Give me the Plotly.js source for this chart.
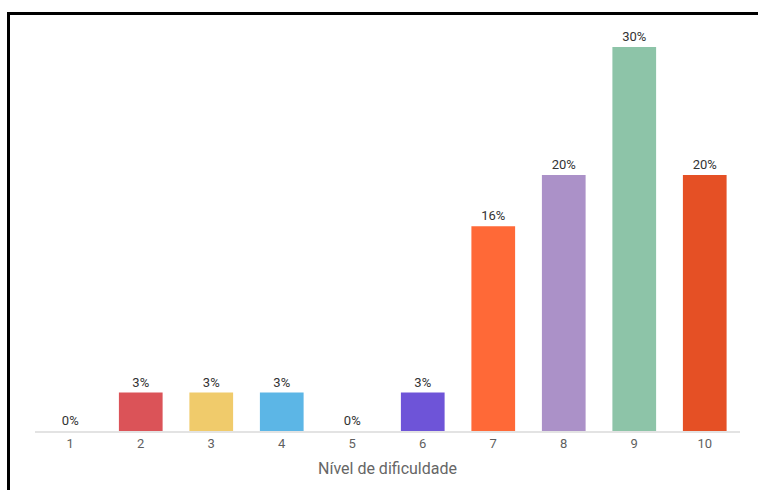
<!DOCTYPE html>
<html>
<head>
<meta charset="utf-8">
<script src="https://cdn.plot.ly/plotly-3.0.1.min.js"></script>
<style>
  html, body { margin: 0; padding: 0; background: #fff; overflow: hidden; }
  #wrap { position: relative; width: 758px; height: 490px; overflow: hidden; }
  #chart { position: absolute; left: 0; top: 0; width: 758px; height: 490px; }
  .rule { position: absolute; background: #000; pointer-events: none; }
  #rule-top { left: 7px; top: 12px; width: 760px; height: 3px; }
  #rule-left { left: 7px; top: 12px; width: 3px; height: 490px; }
</style>
</head>
<body>
<div id="wrap">
  <div id="chart"></div>
  <div class="rule" id="rule-top"></div>
  <div class="rule" id="rule-left"></div>
</div>
<script>
// Difficulty levels (1-10) and share of answers in percent
const levels = ['1', '2', '3', '4', '5', '6', '7', '8', '9', '10'];
const percentages = [0, 3, 3, 3, 0, 3, 16, 20, 30, 20];
const barColors = ['#DB5358', '#DB5358', '#F0CB6B', '#5CB6E6', '#6E54D8',
                   '#6E54D8', '#FF6937', '#AB91C8', '#8DC4A8', '#E55025'];
const axisTitle = 'Nível de dificuldade';

const trace = {
  type: 'bar',
  x: levels,
  y: percentages,
  marker: { color: barColors, line: { width: 0 } },
  text: percentages.map(v => v + '%'),
  textposition: 'outside',
  cliponaxis: false,
  textfont: { family: 'Roboto, sans-serif', size: 13, color: '#333333' },
  hoverinfo: 'none'
};

const layout = {
  width: 758,
  height: 490,
  margin: { l: 35, r: 18, t: 47, b: 59 },
  paper_bgcolor: '#ffffff',
  plot_bgcolor: '#ffffff',
  showlegend: false,
  bargap: 0.38,
  font: { family: 'Roboto, sans-serif' },
  xaxis: {
    type: 'category',
    showgrid: false,
    zeroline: false,
    showline: true,
    linecolor: '#e3e3e3',
    linewidth: 1.5,
    ticks: '',
    tickfont: { family: 'Roboto, sans-serif', size: 13, color: '#5f5f5f' },
    title: { text: axisTitle, standoff: 12,
             font: { family: 'Roboto, sans-serif', size: 16, color: '#666666' } }
  },
  yaxis: {
    range: [0, 30],
    visible: false,
    fixedrange: true
  }
};

Plotly.newPlot('chart', [trace], layout, { displayModeBar: false, staticPlot: true });
</script>
</body>
</html>
